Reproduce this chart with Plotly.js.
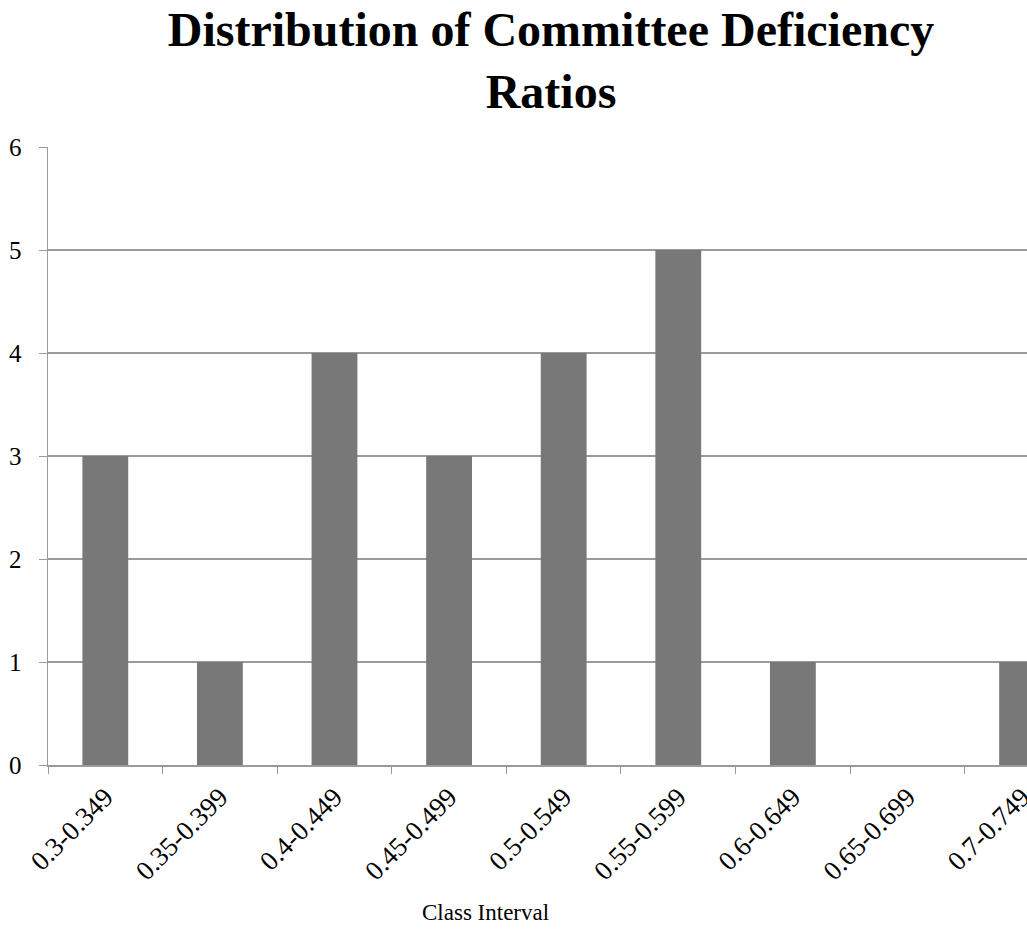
<!DOCTYPE html>
<html>
<head>
<meta charset="utf-8">
<script src="https://cdn.plot.ly/plotly-3.0.1.min.js"></script>
<style>
  html, body { margin: 0; padding: 0; background: #ffffff; }
  #chart { width: 1027px; height: 942px; }
</style>
</head>
<body>
<div id="chart"></div>
<script>
// Class intervals of the committee deficiency ratio and how many committees fall in each
const classIntervals = ["0.3-0.349", "0.35-0.399", "0.4-0.449", "0.45-0.499", "0.5-0.549",
                        "0.55-0.599", "0.6-0.649", "0.65-0.699", "0.7-0.749"];
const frequencies = [3, 1, 4, 3, 4, 5, 1, 0, 1];

const serif = "'Liberation Serif', 'Times New Roman', Times, serif";
const gridGray = "#9a9a9a";

const trace = {
  type: "bar",
  x: classIntervals,
  y: frequencies,
  marker: { color: "#787878", line: { width: 0 } },
  hoverinfo: "x+y"
};

const layout = {
  width: 1027,
  height: 942,
  margin: { l: 48, r: 0, t: 147, b: 177 },
  paper_bgcolor: "#ffffff",
  plot_bgcolor: "#ffffff",
  showlegend: false,
  bargap: 0.6,
  font: { family: serif, color: "#000000" },
  title: {
    text: "<b>Distribution of Committee Deficiency<br>Ratios</b>",
    font: { family: serif, size: 48, color: "#000000" },
    xref: "container",
    x: 0.5365,
    xanchor: "center",
    yref: "container",
    y: 1 - 46 / 942,
    yanchor: "middle"
  },
  xaxis: {
    type: "category",
    range: [-0.5, 8.043],
    tickangle: -45,
    ticks: "outside",
    tickson: "boundaries",
    ticklen: 7,
    tickwidth: 1,
    tickcolor: gridGray,
    showline: true,
    linecolor: gridGray,
    linewidth: 1.5,
    showgrid: false,
    zeroline: false,
    ticklabelstandoff: 4,
    tickfont: { family: serif, size: 27, color: "#000000" },
    fixedrange: true
  },
  yaxis: {
    range: [0, 6],
    dtick: 1,
    tick0: 0,
    ticks: "outside",
    ticklen: 8,
    tickwidth: 1,
    tickcolor: gridGray,
    showline: true,
    linecolor: gridGray,
    linewidth: 1.5,
    showgrid: true,
    gridcolor: gridGray,
    gridwidth: 1.5,
    zeroline: false,
    ticklabelstandoff: 12,
    tickfont: { family: serif, size: 25, color: "#000000" },
    fixedrange: true
  },
  annotations: [{
    text: "Class Interval",
    xref: "paper",
    yref: "paper",
    x: (485 - 48) / 979,
    y: -(912 - 765) / 618,
    xanchor: "center",
    yanchor: "middle",
    showarrow: false,
    font: { family: serif, size: 23, color: "#000000" }
  }]
};

Plotly.newPlot("chart", [trace], layout, { displayModeBar: false, staticPlot: true });
</script>
</body>
</html>
